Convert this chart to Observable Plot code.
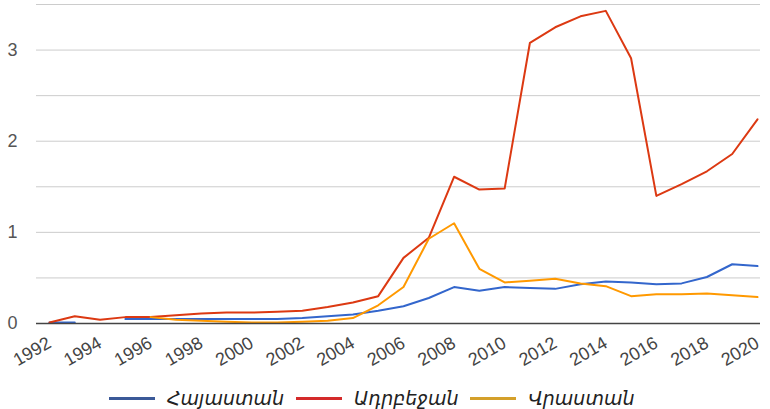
<!DOCTYPE html>
<html>
<head>
<meta charset="utf-8">
<script src="https://cdn.jsdelivr.net/npm/d3@7"></script>
<script src="https://cdn.jsdelivr.net/npm/@observablehq/plot@0.6"></script>
<style>
  body { margin: 0; background: #fff; font-family: "Liberation Sans", "DejaVu Sans", "Noto Sans", sans-serif; }
  #wrap { width: 770px; }
  #legend { display: flex; justify-content: flex-start; align-items: center; height: 22px; padding-top: 7px; padding-left: 109px; font-size: 19px; font-style: italic; color: #222; font-family: "DejaVu Sans", sans-serif; }
  .item { display: flex; align-items: center; margin-right: 12px; }
  .sw { width: 46px; height: 3px; margin-right: 12px; }
</style>
</head>
<body>
<div id="wrap"></div>
<script>
const years = d3.range(1992, 2021);
const seriesNames = ["Հայաստան", "Ադրբեջան", "Վրաստան"];
const seriesColors = ["#3366cc", "#dc3912", "#ff9900"];
const legendColors = ["#3b5998", "#d42a2a", "#d4a02a"];
const armenia = [0.01, 0.01, null, 0.05, 0.05, 0.05, 0.05, 0.05, 0.05, 0.05, 0.06, 0.08, 0.10, 0.14, 0.19, 0.28, 0.40, 0.36, 0.40, 0.39, 0.38, 0.43, 0.46, 0.45, 0.43, 0.44, 0.51, 0.65, 0.63];
const azerbaijan = [0.01, 0.08, 0.04, 0.07, 0.07, 0.09, 0.11, 0.12, 0.12, 0.13, 0.14, 0.18, 0.23, 0.30, 0.72, 0.94, 1.61, 1.47, 1.48, 3.08, 3.25, 3.37, 3.43, 2.91, 1.40, 1.53, 1.67, 1.86, 2.24];
const georgia = [null, null, null, null, 0.07, 0.04, 0.03, 0.02, 0.01, 0.01, 0.02, 0.03, 0.06, 0.20, 0.40, 0.93, 1.10, 0.60, 0.45, 0.47, 0.49, 0.44, 0.41, 0.30, 0.32, 0.32, 0.33, 0.31, 0.29];
const yTicks = [0, 1, 2, 3];
const gridValues = [0.5, 1, 1.5, 2, 2.5, 3, 3.5];
const xTicks = d3.range(1992, 2021, 2);

const valuesBySeries = [armenia, azerbaijan, georgia];
const rows = [];
seriesNames.forEach((s, i) => {
  years.forEach((yr, j) => rows.push({year: yr, value: valuesBySeries[i][j], series: s}));
});

const chart = Plot.plot({
  width: 770,
  height: 380,
  marginTop: 4,
  marginBottom: 57,
  marginLeft: 36,
  marginRight: 10,
  style: {fontFamily: "Liberation Sans, DejaVu Sans, sans-serif", color: "#444"},
  x: {domain: [1992, 2020], insetLeft: 13, insetRight: 3},
  y: {domain: [0, 3.5]},
  color: {domain: seriesNames, range: seriesColors},
  marks: [
    Plot.ruleY(gridValues, {stroke: "#cccccc", strokeWidth: 1}),
    Plot.axisY({ticks: yTicks, tickSize: 0, tickPadding: 19, fontSize: 18, label: null, fill: "#555", tickFormat: d => String(d)}),
    Plot.axisX({ticks: xTicks, tickSize: 0, tickPadding: 18, tickRotate: -30, fontSize: 18, label: null, tickFormat: d => String(d), fill: "#444"}),
    Plot.line(rows, {x: "year", y: "value", z: "series", stroke: "series", strokeWidth: 2, defined: d => d.value != null}),
    Plot.ruleY([0], {stroke: "#444", strokeWidth: 1.3})
  ]
});
document.getElementById("wrap").appendChild(chart);

const legend = document.createElement("div");
legend.id = "legend";
seriesNames.forEach((s, i) => {
  const it = document.createElement("div");
  it.className = "item";
  const sw = document.createElement("div");
  sw.className = "sw";
  sw.style.background = legendColors[i];
  const t = document.createElement("span");
  t.textContent = s;
  it.appendChild(sw); it.appendChild(t);
  legend.appendChild(it);
});
document.getElementById("wrap").appendChild(legend);
</script>
</body>
</html>
